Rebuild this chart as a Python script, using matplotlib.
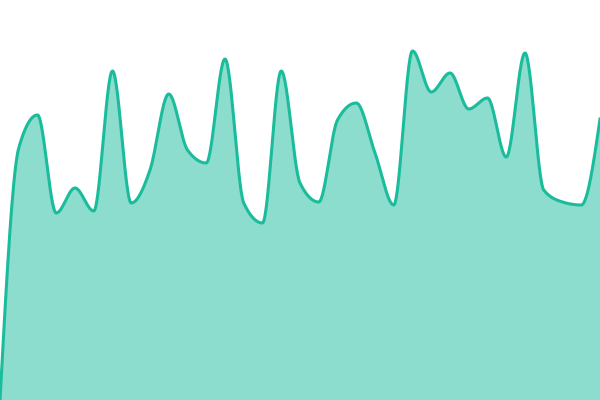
import matplotlib
matplotlib.use("Agg")
import matplotlib.pyplot as plt
import numpy as np

# values (0 = bottom edge, 400 = top edge)
values = [0, 252, 285, 187, 212, 189, 329, 197, 230, 306, 250, 237, 341,
          197, 177, 329, 217, 198, 280, 297, 247, 195, 349, 308, 327, 291,
          302, 243, 347, 210, 198, 195, 281]
line_color = "#1abc9c"


def monotone_curve(x, y, steps=30):
    # d3-style monotone cubic (Fritsch-Carlson) interpolation
    x = np.asarray(x, float)
    y = np.asarray(y, float)
    n = len(x)
    h = np.diff(x)
    s = np.diff(y) / h
    t = np.zeros(n)
    for i in range(1, n - 1):
        p = (s[i - 1] * h[i] + s[i] * h[i - 1]) / (h[i - 1] + h[i])
        t[i] = (np.sign(s[i - 1]) + np.sign(s[i])) * min(abs(s[i - 1]), abs(s[i]), 0.5 * abs(p))
    t[0] = (3 * s[0] - t[1]) / 2
    t[-1] = (3 * s[-1] - t[-2]) / 2
    xs, ys = [], []
    for i in range(n - 1):
        u = np.linspace(0, 1, steps, endpoint=False)
        h00 = 2 * u**3 - 3 * u**2 + 1
        h10 = u**3 - 2 * u**2 + u
        h01 = -2 * u**3 + 3 * u**2
        h11 = u**3 - u**2
        xs.append(x[i] + u * h[i])
        ys.append(h00 * y[i] + h10 * h[i] * t[i] + h01 * y[i + 1] + h11 * h[i] * t[i + 1])
    xs.append([x[-1]])
    ys.append([y[-1]])
    return np.concatenate(xs), np.concatenate(ys)


xpos = np.arange(len(values))
cx, cy = monotone_curve(xpos, values)

fig = plt.figure(figsize=(6, 4), dpi=100)
ax = fig.add_axes([0, 0, 1, 1])
ax.fill_between(cx, 0, cy, color=line_color, alpha=0.5, linewidth=0)
ax.plot(cx, cy, color=line_color, linewidth=2.2)
ax.set_xlim(0, len(values) - 1)
ax.set_ylim(0, 400)
ax.axis("off")
fig.savefig("out.png", dpi=100)
